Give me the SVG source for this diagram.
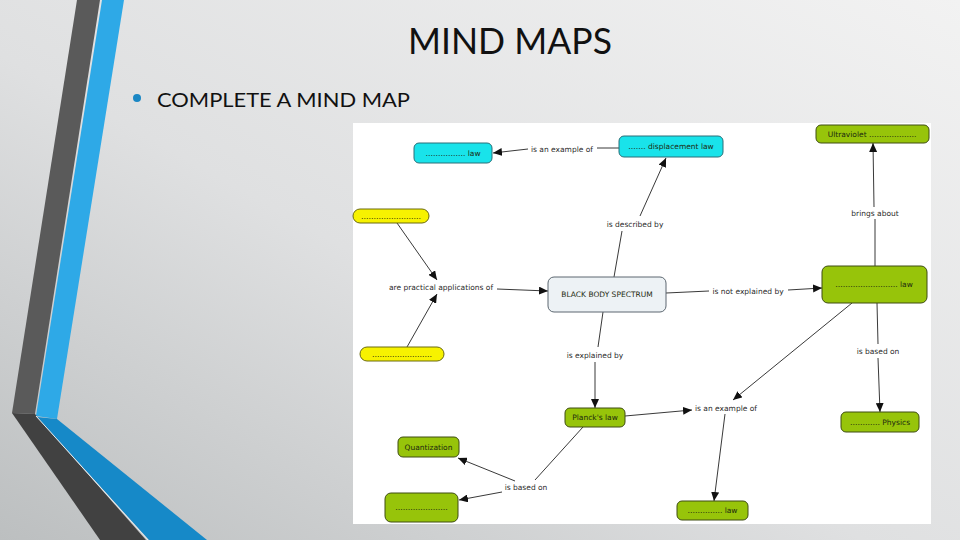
<svg xmlns="http://www.w3.org/2000/svg" width="960" height="540" viewBox="0 0 960 540">
<defs>
  <linearGradient id="bg" x1="1" y1="0" x2="0" y2="1">
    <stop offset="0" stop-color="#f2f2f2"/>
    <stop offset="0.55" stop-color="#dfe0e1"/>
    <stop offset="1" stop-color="#bcbfc0"/>
  </linearGradient>
  <marker id="arr" markerWidth="10" markerHeight="8" refX="9" refY="4" orient="auto" markerUnits="userSpaceOnUse">
    <path d="M0,0 L9,4 L0,8 Z" fill="#111"/>
  </marker>
  <style>
    .lbl{font-family:"DejaVu Sans","Liberation Sans",sans-serif;font-size:7.5px;fill:#2a2a2a;text-anchor:middle}
    .nt{font-family:"DejaVu Sans","Liberation Sans",sans-serif;font-size:7.5px;fill:#1d2a10;text-anchor:middle}
    .cy{fill:#19e3ea;stroke:#2a6f78;stroke-width:1}
    .gr{fill:#97c40a;stroke:#3e4d12;stroke-width:1}
    .ye{fill:#f7f200;stroke:#6b6a10;stroke-width:1}
    .bb{fill:#edf2f5;stroke:#5c6770;stroke-width:1}
    #connectors line{stroke:#222;stroke-width:0.9;fill:none}
    .ar{marker-end:url(#arr)}
  </style>
</defs>
<rect width="960" height="540" fill="url(#bg)"/>
<!-- decorative bands -->
<polygon points="77,0 100,0 35,414 12,413" fill="#5a5a5a"/>
<polygon points="102,0 124,0 57,419 36,416" fill="#2ea9e7"/>
<polygon points="12,413 35,414 146,540 100,540" fill="#414141"/>
<polygon points="37,417 57,419 207,540 149,540" fill="#1689c8"/>
<line x1="36" y1="416" x2="148" y2="540" stroke="#e8eef2" stroke-width="1"/>
<text x="510" y="54" font-family="Lato,'Open Sans',sans-serif" font-size="36" fill="#111" text-anchor="middle" textLength="204" lengthAdjust="spacingAndGlyphs">MIND MAPS</text>
<circle cx="137" cy="98" r="4" fill="#1a87c4"/>
<text x="157" y="107" font-family="Lato,'Open Sans',sans-serif" font-size="20" fill="#111" textLength="253" lengthAdjust="spacingAndGlyphs">COMPLETE A MIND MAP</text>
<!-- map image -->
<rect x="353" y="123" width="578" height="401" fill="#ffffff"/>
<g id="connectors">
  <line x1="619" y1="148" x2="597" y2="148"/>
  <line class="ar" x1="528" y1="149" x2="493" y2="153"/>
  <line x1="614" y1="277" x2="622" y2="231"/>
  <line class="ar" x1="640" y1="216" x2="666" y2="158"/>
  <line class="ar" x1="397" y1="223" x2="437" y2="280"/>
  <line class="ar" x1="407" y1="347" x2="437" y2="294"/>
  <line class="ar" x1="497" y1="289" x2="548" y2="291"/>
  <line x1="666" y1="293" x2="709" y2="291"/>
  <line class="ar" x1="788" y1="290" x2="822" y2="288"/>
  <line x1="875" y1="266" x2="875" y2="219"/>
  <line class="ar" x1="874" y1="207" x2="873" y2="143"/>
  <line x1="603" y1="312" x2="598" y2="347"/>
  <line class="ar" x1="595" y1="362" x2="595" y2="408"/>
  <line class="ar" x1="852" y1="303" x2="733" y2="400"/>
  <line x1="877" y1="303" x2="878" y2="344"/>
  <line class="ar" x1="878" y1="358" x2="880" y2="412"/>
  <line class="ar" x1="625" y1="416" x2="692" y2="410"/>
  <line class="ar" x1="725" y1="414" x2="714" y2="501"/>
  <line x1="583" y1="427" x2="535" y2="480"/>
  <line class="ar" x1="515" y1="481" x2="458" y2="458"/>
  <line class="ar" x1="502" y1="492" x2="459" y2="500"/>
  <text class="lbl" x="562" y="151.5">is an example of</text>
  <text class="lbl" x="635" y="226.5">is described by</text>
  <text class="lbl" x="441" y="289.5">are practical applications of</text>
  <text class="lbl" x="748" y="293.5">is not explained by</text>
  <text class="lbl" x="875" y="216">brings about</text>
  <text class="lbl" x="595" y="357.5">is explained by</text>
  <text class="lbl" x="878" y="353.5">is based on</text>
  <text class="lbl" x="726" y="410.5">is an example of</text>
  <text class="lbl" x="526" y="489.5">is based on</text>
</g>
<g id="n_law1"><rect class="cy" x="414" y="143" width="78" height="20" rx="5"/><text class="nt" x="453" y="155.5">……………. law</text></g>
<g id="n_disp"><rect class="cy" x="619" y="136" width="104" height="21" rx="5"/><text class="nt" x="671" y="149">……. displacement law</text></g>
<g id="n_uv"><rect class="gr" x="816" y="125" width="113" height="18" rx="5"/><text class="nt" x="872" y="136.5">Ultraviolet ……………….</text></g>
<g id="n_yel1"><rect class="ye" x="353" y="209" width="76" height="14" rx="7"/><text class="nt" x="391" y="218.5">……………………</text></g>
<g id="n_bbs"><rect class="bb" x="548" y="277" width="118" height="35" rx="6"/><text class="nt" x="607" y="297" fill="#222">BLACK BODY SPECTRUM</text></g>
<g id="n_law2"><rect class="gr" x="822" y="266" width="105" height="37" rx="6"/><text class="nt" x="874" y="287">……………………. law</text></g>
<g id="n_yel2"><rect class="ye" x="360" y="347" width="84" height="14" rx="7"/><text class="nt" x="402" y="356.5">……………………</text></g>
<g id="n_planck"><rect class="gr" x="565" y="408" width="60" height="19" rx="5"/><text class="nt" x="595" y="420">Planck's law</text></g>
<g id="n_quant"><rect class="gr" x="398" y="437" width="61" height="20" rx="5"/><text class="nt" x="428.5" y="449.5">Quantization</text></g>
<g id="n_phys"><rect class="gr" x="841" y="412" width="78" height="20" rx="5"/><text class="nt" x="880" y="424.5">………… Physics</text></g>
<g id="n_blank"><rect class="gr" x="385" y="493" width="73" height="29" rx="6"/><text class="nt" x="421.5" y="510">…………………</text></g>
<g id="n_law3"><rect class="gr" x="677" y="501" width="71" height="19" rx="5"/><text class="nt" x="712.5" y="513">………….. law</text></g>
</svg>
